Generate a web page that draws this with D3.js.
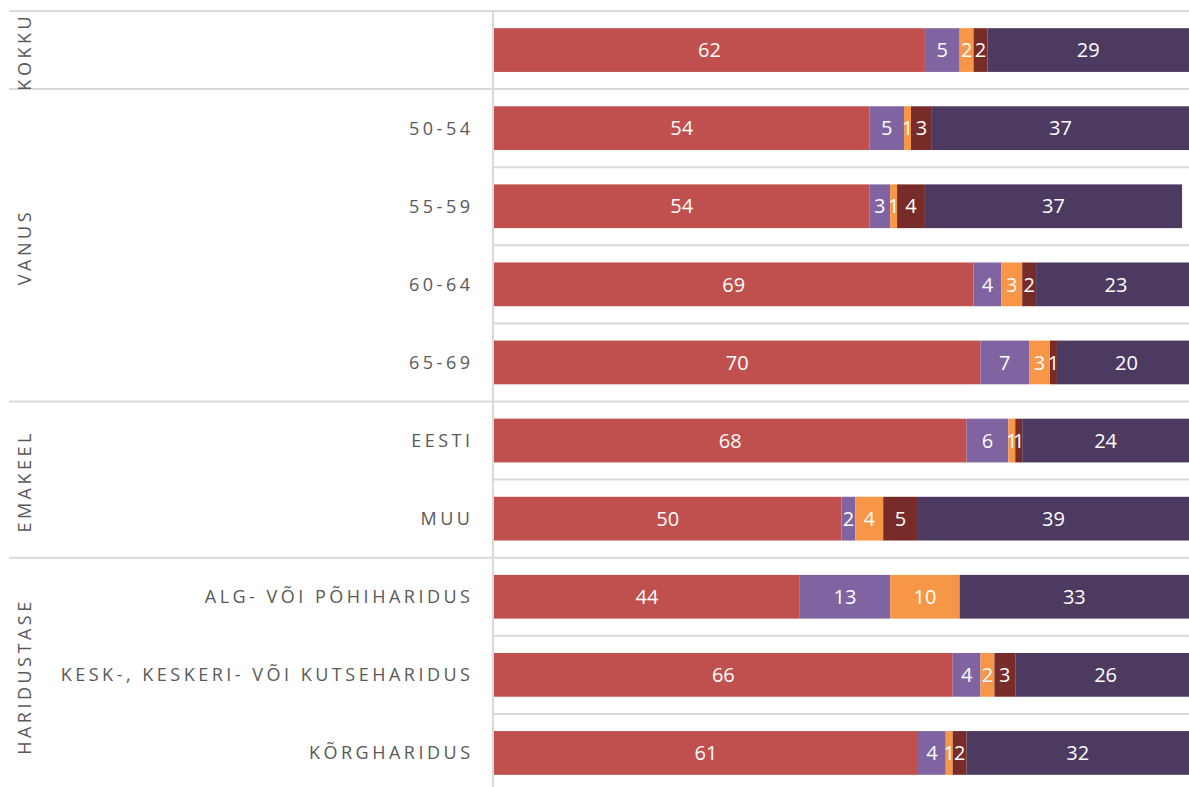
<!DOCTYPE html>
<html>
<head>
<meta charset="utf-8">
<script src="https://cdn.jsdelivr.net/npm/d3@7"></script>
<style>
  html, body { margin: 0; padding: 0; background: #fff; }
  svg { display: block; font-family: "Open Sans", "Noto Sans", sans-serif; }
</style>
</head>
<body>
<svg id="chart" width="1189" height="787"></svg>
<script>
// Row categories (top to bottom) and the group each one belongs to
const categories = ["", "50-54", "55-59", "60-64", "65-69", "EESTI", "MUU",
  "ALG- VÕI PÕHIHARIDUS", "KESK-, KESKERI- VÕI KUTSEHARIDUS", "KÕRGHARIDUS"];
const groups = ["KOKKU", "VANUS", "VANUS", "VANUS", "VANUS", "EMAKEEL", "EMAKEEL",
  "HARIDUSTASE", "HARIDUSTASE", "HARIDUSTASE"];

// Stacked shares (%) per row, one array per series
const series1 = [62, 54, 54, 69, 70, 68, 50, 44, 66, 61];
const series2 = [5, 5, 3, 4, 7, 6, 2, 13, 4, 4];
const series3 = [2, 1, 1, 3, 3, 1, 4, 10, 2, 1];
const series4 = [2, 3, 4, 2, 1, 1, 5, 0, 3, 2];
const series5 = [29, 37, 37, 23, 20, 24, 39, 33, 26, 32];

const seriesColors = ["#C0504D", "#8064A2", "#F79646", "#772C2A", "#4D3A60"];

const W = 1189, H = 787;
const svg = d3.select("#chart");

const rows = categories.map((c, i) => ({
  id: i, cat: c, group: groups[i],
  values: [series1[i], series2[i], series3[i], series4[i], series5[i]]
}));

const topY = 11, step = 78.1;
const y = d3.scaleBand()
  .domain(rows.map(r => r.id))
  .range([topY, topY + step * rows.length])
  .paddingInner(0.44)
  .paddingOuter(0.22);

const axisX = 493;
const x = d3.scaleLinear().domain([0, 100]).range([axisX + 1, W]);

const stack = d3.stack().keys([0, 1, 2, 3, 4]).value((d, k) => d.values[k]);
const layers = stack(rows);

// Grid / separators
const gridColor = "#D9D9D9";
const sepG = svg.append("g");
for (let i = 0; i <= rows.length; i++) {
  const yy = topY + step * i;
  const isGroupEdge = i === 0 || i === rows.length || groups[i] !== groups[i - 1];
  sepG.append("line")
    .attr("x1", isGroupEdge ? 9 : axisX).attr("x2", W)
    .attr("y1", yy).attr("y2", yy)
    .attr("stroke", gridColor).attr("stroke-width", 2);
}
sepG.append("line")
  .attr("x1", axisX).attr("x2", axisX)
  .attr("y1", topY).attr("y2", H)
  .attr("stroke", gridColor).attr("stroke-width", 2);

// Bars
const barG = svg.append("g");
layers.forEach((layer, k) => {
  barG.selectAll(null)
    .data(layer)
    .join("rect")
    .attr("x", d => x(d[0]))
    .attr("y", d => y(d.data.id))
    .attr("width", d => x(d[1]) - x(d[0]))
    .attr("height", y.bandwidth())
    .attr("fill", seriesColors[k]);
});

// Value labels, centred inside each segment
const labG = svg.append("g");
layers.forEach((layer, k) => {
  labG.selectAll(null)
    .data(layer.filter(d => d.data.values[k] > 0))
    .join("text")
    .attr("x", d => (x(d[0]) + x(d[1])) / 2)
    .attr("y", d => y(d.data.id) + y.bandwidth() / 2)
    .attr("dy", "0.36em")
    .attr("text-anchor", "middle")
    .attr("fill", "#fff")
    .attr("font-size", 20)
    .text(d => d.data.values[k]);
});

// Category labels
const ls = 3.5;
svg.append("g").selectAll("text")
  .data(rows.filter(r => r.cat))
  .join("text")
  .attr("x", 470 + ls)
  .attr("y", r => y(r.id) + y.bandwidth() / 2)
  .attr("dy", "0.36em")
  .attr("text-anchor", "end")
  .attr("fill", "#595959")
  .attr("font-size", 18)
  .attr("letter-spacing", ls)
  .text(r => r.cat);

// Group labels, rotated
const groupNames = [...new Set(groups)];
const groupInfo = groupNames.map(g => {
  const ids = rows.filter(r => r.group === g).map(r => r.id);
  const y0 = topY + step * d3.min(ids), y1 = topY + step * (d3.max(ids) + 1);
  return { name: g, cy: (y0 + y1) / 2 };
});
svg.append("g").selectAll("text")
  .data(groupInfo)
  .join("text")
  .attr("transform", d => `translate(25,${d.cy + ls / 2}) rotate(-90)`)
  .attr("dy", "0.36em")
  .attr("text-anchor", "middle")
  .attr("fill", "#595959")
  .attr("font-size", 18)
  .attr("letter-spacing", ls)
  .text(d => d.name);
</script>
</body>
</html>
